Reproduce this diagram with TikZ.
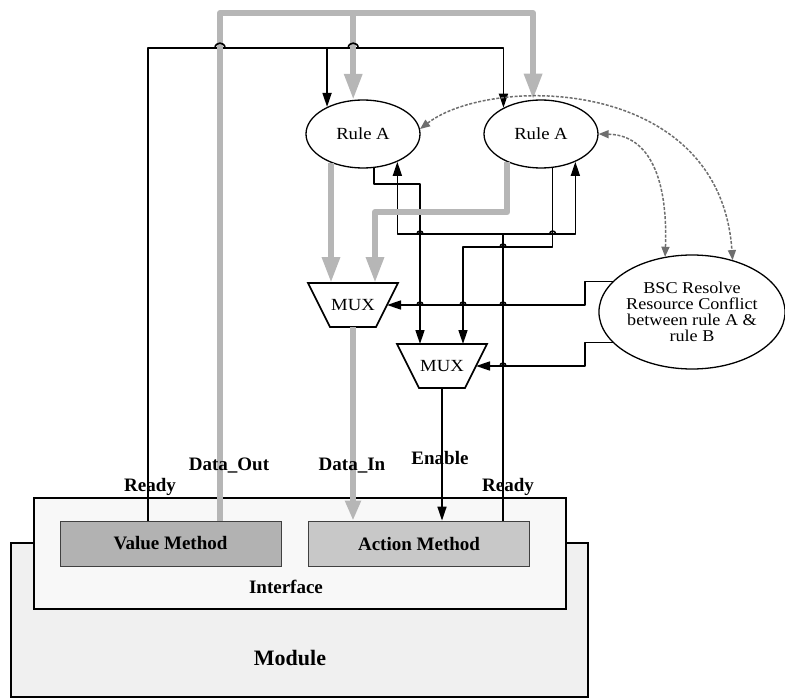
\documentclass[tikz,border=0pt]{standalone}
\usepackage{fontspec}
\setmainfont{Liberation Serif}
\newfontfamily\widerm[FakeStretch=1.1]{Liberation Serif}
\usetikzlibrary{arrows.meta,shapes.geometric}

\definecolor{busgray}{RGB}{182,182,182}
\definecolor{dashgray}{RGB}{110,110,110}
\definecolor{modfill}{RGB}{240,240,240}
\definecolor{ifacefill}{RGB}{248,248,248}
\definecolor{valfill}{RGB}{178,178,178}
\definecolor{actfill}{RGB}{200,200,200}

% small arch where a wire crosses another without connecting
\newcommand\wirehop[2][3]{%
  \draw[wire] ([xshift=-#1pt]#2) .. controls ([xshift=-#1pt,yshift=1.3*#1pt]#2)
    and ([xshift=#1pt,yshift=1.3*#1pt]#2) .. ([xshift=#1pt]#2);}
% multiplexer outline: wide top, narrow bottom
\newcommand\muxoutline[1]{%
  \draw[line width=1.6pt,line join=miter] (#1.north west) -- (#1.north east)
    -- ([xshift=-22pt]#1.south east) -- ([xshift=22pt]#1.south west) -- cycle;}

\begin{document}
\begin{tikzpicture}[x=1pt,y=-1pt,
  wire/.style={line width=1.6pt,line join=round},
  heavywire/.style={line width=2.8pt},
  tip/.style={-{Triangle[width=9pt,length=14pt]}},
  gbus/.style={draw=busgray,line width=6pt,line join=round,
    -{Triangle[width=17pt,length=26pt]}},
  conflict/.style={draw=dashgray,line width=1.5pt,dash pattern=on 3pt off 1.6pt,
    {Triangle[width=8pt,length=10pt]}-{Triangle[width=8pt,length=10pt]}},
  rule/.style={draw,line width=1.3pt,ellipse,minimum width=114pt,minimum height=68pt,
    inner sep=0pt,font=\widerm\fontsize{17}{19}\selectfont},
  mux/.style={rectangle,minimum width=90pt,minimum height=44pt,inner sep=0pt,
    outer sep=0pt,font=\widerm\fontsize{17}{19}\selectfont},
  method/.style={draw=black!75,line width=0.8pt,minimum width=221pt,minimum height=45pt,
    inner sep=0pt,font=\fontsize{19}{21}\selectfont\bfseries},
  sig/.style={font=\fontsize{19}{21}\selectfont\bfseries,inner sep=0pt}
]
\useasboundingbox (0,0) rectangle (785,698);

% module and its interface
\node[draw,fill=modfill,line width=1.8pt,minimum width=577pt,minimum height=154pt,
  inner sep=0pt] (module) at (299.5,620) {};
\node[font=\fontsize{22}{24}\selectfont\bfseries] (modtxt) at (290,658) {Module};
\node[draw,fill=ifacefill,line width=2.6pt,minimum width=532pt,minimum height=111pt,
  inner sep=0pt] (iface) at (300,553.5) {};
\node[font=\fontsize{19}{21}\selectfont\bfseries] (ifacetxt) at (286,587) {Interface};
\node[method,fill=valfill] (vm) at (170.5,543.5) {Value Method};
\node[method,fill=actfill] (am) at (419,543.5) {Action Method};

% rules, multiplexers, conflict resolver
\node[rule] (ruleL) at (363,134) {Rule A};
\node[rule] (ruleR) at (541,134) {Rule A};
\node[mux] (mux1) at (353,305) {MUX};
\node[mux] (mux2) at (442,366) {MUX};
\muxoutline{mux1}
\muxoutline{mux2}
\coordinate (mux1in) at ([xshift=-11pt]mux1.east);
\coordinate (mux2in) at ([xshift=-11pt]mux2.east);
\node[draw,line width=1.3pt,ellipse,minimum width=184pt,minimum height=114pt,inner sep=0pt,
  align=center,font=\widerm\fontsize{16.5}{16}\selectfont] (bsc) at (692,312)
  {BSC Resolve\\Resource Conflict\\between rule A \&\\rule B};

% wire columns and rows
\coordinate (cReadyL) at (148,0);
\coordinate (cDout) at (220,0);
\coordinate (cReadyR) at (503,0);
\coordinate (cM2a) at (420,0);
\coordinate (cM2b) at (463,0);
\coordinate (cM1b) at (375,0);
\coordinate (cSel) at (585,0);
\coordinate (rGray) at (0,13);
\coordinate (rBlack) at (0,48);
\coordinate (rL) at (0,184);
\coordinate (rG) at (0,212);
\coordinate (rU) at (0,234);
\coordinate (rR) at (0,247);

% black control wires
\draw[wire,tip] (vm.north -| cReadyL) |- (ruleR.145 |- rBlack) -- (ruleR.145);
\draw[wire,tip] (ruleL.143.7 |- rBlack) -- (ruleL.143.7);
\draw[wire,tip] (ruleL.288.2) |- (cM2a |- rL) -- (cM2a |- mux2.north);
\draw[wire,tip] (ruleR.289.9) |- (cM2b |- rR) -- (cM2b |- mux2.north);
\draw[wire,{Triangle[width=9pt,length=14pt]}-{Triangle[width=9pt,length=14pt]}]
  (ruleL.321.2) |- (ruleR.321.2 |- rU) -- (ruleR.321.2);
\draw[heavywire] (am.north -| cReadyR) -- (cReadyR |- rU);
\draw[wire,tip] (bsc.159.7) -- (bsc.159.7 -| cSel) |- (mux1in);
\draw[wire,tip] (bsc.201.9) -- (bsc.201.9 -| cSel) |- (mux2in);
\draw[wire,tip] (mux2.south) -- (mux2.south |- am.north);

% grey data buses
\draw[gbus] (vm.north -| cDout) |- (ruleR.103.4 |- rGray) -- (ruleR.103.4);
\draw[gbus] (ruleL.106.6 |- rGray) -- (ruleL.106.6);
\draw[gbus] (ruleL.222.6) -- (ruleL.222.6 |- mux1.north);
\draw[gbus] (ruleR.220) |- (cM1b |- rG) -- (cM1b |- mux1.north);
\draw[gbus,-{Triangle[width=15pt,length=20pt]}] (mux1.south) -- (mux1.south |- am.north);

% crossings
\wirehop[5]{cDout |- rBlack}
\wirehop[5]{ruleL.106.6 |- rBlack}
\wirehop{cM2a |- rU}
\wirehop{ruleR.289.9 |- rU}
\wirehop{cReadyR |- rR}
\wirehop{cM2a |- mux1.east}
\wirehop{cM2b |- mux1.east}
\wirehop{cReadyR |- mux1.east}
\wirehop{cReadyR |- mux2.east}

% resource conflict links
\draw[conflict] (ruleL.5) .. controls (490,75) and (720,75) .. (bsc.52.1);
\draw[conflict] (ruleR.0) .. controls (650,135) and (668,180) .. (bsc.116.4);

% signal names
\node[sig] (lblReadyL) at (150,487) {Ready};
\node[sig] (lblDout) at (229,466) {Data\_Out};
\node[sig] (lblDin) at (352,466) {Data\_In};
\node[sig] (lblEn) at (440,458) {Enable};
\node[sig] (lblReadyR) at (508,487) {Ready};
\end{tikzpicture}
\end{document}
